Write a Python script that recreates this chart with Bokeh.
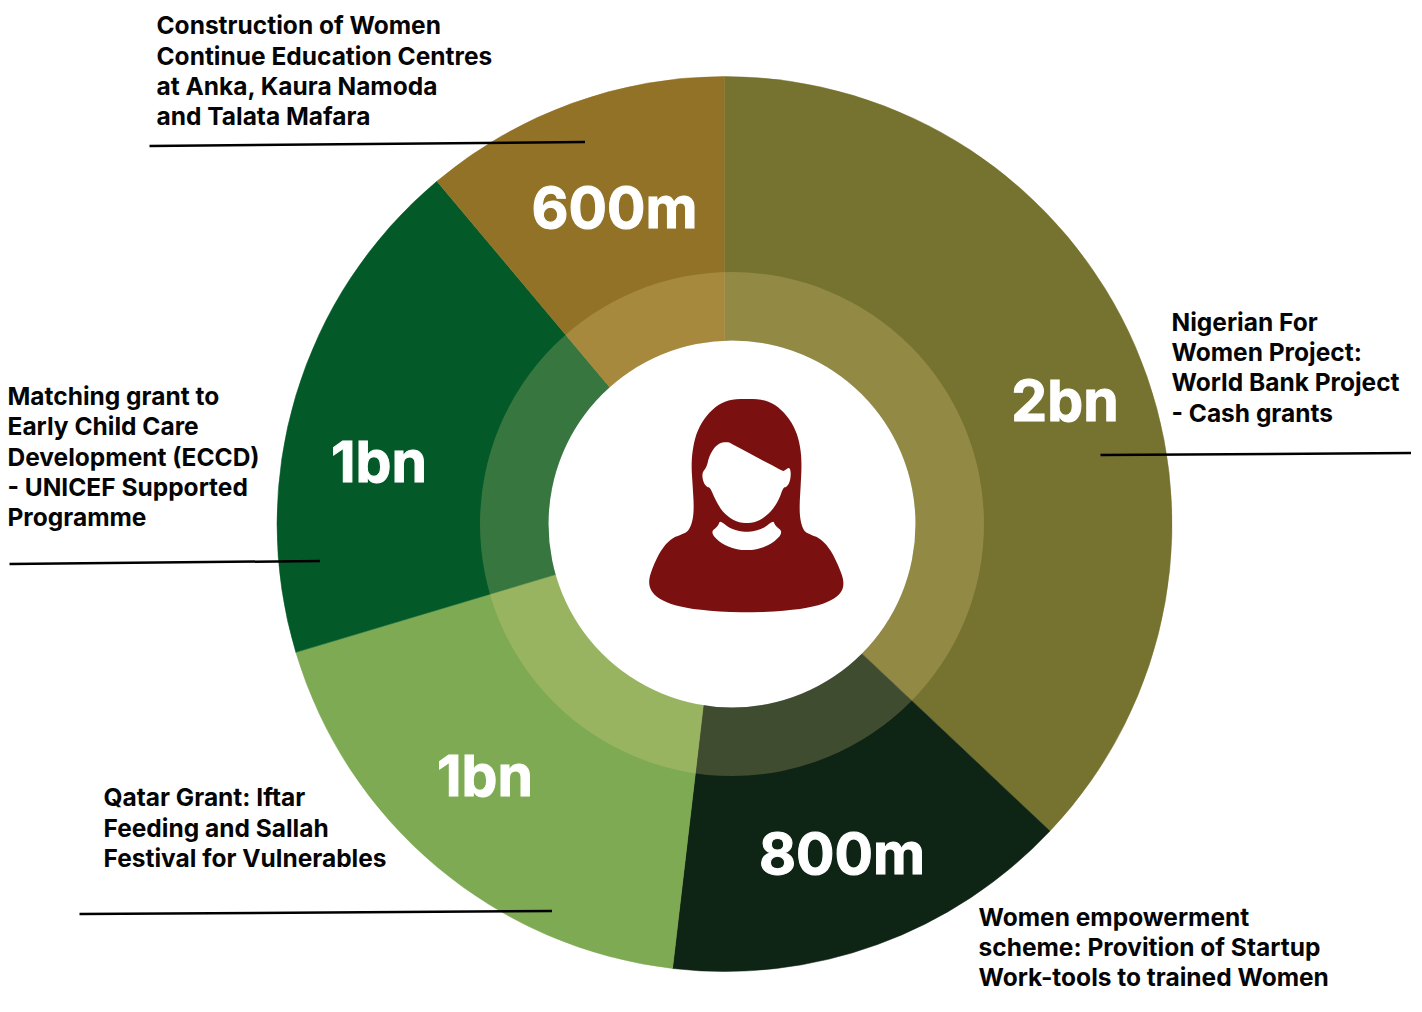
from math import pi
from bokeh.plotting import figure
from bokeh.embed import file_html
from bokeh.resources import INLINE
from bokeh.core.properties import value

# ---- data ----
amounts = [2000, 800, 1000, 1000, 600]
amount_labels = ["2bn", "800m", "1bn", "1bn", "600m"]
descriptions = [
    ["Nigerian For", "Women Project:", "World Bank Project", "- Cash grants"],
    ["Women empowerment", "scheme: Provition of Startup", "Work-tools to trained Women"],
    ["Qatar Grant: Iftar", "Feeding and Sallah", "Festival for Vulnerables"],
    ["Matching grant to", "Early Child Care", "Development (ECCD)", "- UNICEF Supported", "Programme"],
    ["Construction of Women", "Continue Education Centres", "at Anka, Kaura Namoda", "and Talata Mafara"],
]

# ---- styles and layout (picture pixel coordinates, y downwards) ----
colors = ["#767230", "#0e2414", "#7eaa54", "#035a28", "#917226"]
RING = "#f4dc92"
FONT = "Inter"
BIG = 57
SMALL = 24.5
H = 1012
W = 1422
cx, cy, R = 724.5, 523.5, 447.5
rx, ry, r_out, r_in = 732, 523.5, 252, 183.5
big_pos = [(1065, 421), (842, 874), (485, 796), (379, 482), (614.5, 228)]
label_x = [1171.5, 978.5, 103.5, 7.5, 156.5]
label_base = [
    [330, 360, 390, 421],
    [925, 955, 985],
    [805, 836, 866],
    [404, 434, 465, 495, 525],
    [33, 64, 94, 124],
]
leaders = [
    (1100.5, 454.5, 1411, 452.5),
    None,
    (79.5, 913.5, 552, 910.5),
    (9.5, 563.5, 320, 560.5),
    (149.5, 145.5, 585, 141.5),
]
ICON = "#7a1010"
body = [(350,40),(400,42),(440,60),(475,95),(500,140),(512,190),(515,240),(512,300),(508,370),(512,410),
        (522,437),(540,447),(570,458),(600,490),(625,540),(642,585),(637,618),(610,642),(560,662),(480,675),
        (350,682),(220,675),(140,662),(90,642),(63,618),(55,585),(70,540),(95,490),(125,458),(155,447),
        (175,437),(187,410),(192,370),(188,300),(184,240),(188,190),(200,140),(225,95),(260,60),(300,42)]
face = [(295,170),(300,172),(455,255),(462,257),(478,244),(483,262),(480,288),(470,305),(460,305),(445,347),(420,382),
        (385,408),(350,414),(315,408),(280,382),(258,347),(240,305),(230,305),(219,288),(216,262),(230,245),
        (237,213),(255,183),(275,170)]
collar = [(270,404),(300,430),(350,442),(400,430),(430,404),(435,420),(460,440),(430,472),(390,490),(350,495),
          (310,490),(270,472),(241,440),(264,422)]


def Y(py):
    return H - py


def icon_xy(pts, n=2):
    for _ in range(n):
        out = []
        for i, (a, b) in enumerate(pts):
            c, d = pts[(i + 1) % len(pts)]
            out += [(0.75 * a + 0.25 * c, 0.75 * b + 0.25 * d), (0.25 * a + 0.75 * c, 0.25 * b + 0.75 * d)]
        pts = out
    return [630 + a / 3 for a, _ in pts], [Y(385 + b / 3) for _, b in pts]


p = figure(width=W - 8, height=H - 8, x_range=(0.5, W - 7.5), y_range=(8, H),
           output_backend="svg", toolbar_location=None, min_border=0)
p.axis.visible = False
p.grid.visible = False
p.outline_line_color = None
p.background_fill_color = "white"

# sectors, clockwise from twelve o'clock
total = sum(amounts)
acc = 0
starts, ends = [], []
for v in amounts:
    starts.append(pi / 2 - 2 * pi * acc / total)
    acc += v
    ends.append(pi / 2 - 2 * pi * acc / total)
p.wedge(x=[cx] * 5, y=[Y(cy)] * 5, radius=R, start_angle=starts, end_angle=ends, direction="clock",
        fill_color=colors, line_color=colors, line_width=0.5)

# lighter ring and white hole
p.annulus(x=[rx], y=[Y(ry)], inner_radius=r_in, outer_radius=r_out, fill_color=RING, fill_alpha=0.22, line_color=None)
p.circle(x=[rx], y=[Y(ry)], radius=r_in, fill_color="white", line_color=None)

# icon
for pts, col in ((body, ICON), (face, "white"), (collar, "white")):
    xs, ys = icon_xy(pts)
    p.patch(xs, ys, fill_color=col, line_color=None)

# amount labels
p.text(x=[a for a, _ in big_pos], y=[Y(b - 0.36 * BIG) for _, b in big_pos], text=amount_labels, text_color="white",
       text_outline_color="white",
       text_font=value(FONT), text_font_style="bold", text_font_size=f"{BIG}px",
       text_align="center", text_baseline="middle")

# description labels
for lines, x0, bases in zip(descriptions, label_x, label_base):
    p.text(x=[x0] * len(lines), y=[Y(b - 0.36 * SMALL) for b in bases], text=lines, text_color="#050505",
           text_font=value(FONT), text_font_style="bold", text_font_size=f"{SMALL}px",
           text_align="left", text_baseline="middle")

# leader lines
seg = [s for s in leaders if s]
p.segment(x0=[s[0] for s in seg], y0=[Y(s[1]) for s in seg], x1=[s[2] for s in seg], y1=[Y(s[3]) for s in seg],
          line_color="black", line_width=2.5)

open("out.html", "w").write(file_html(p, INLINE))
